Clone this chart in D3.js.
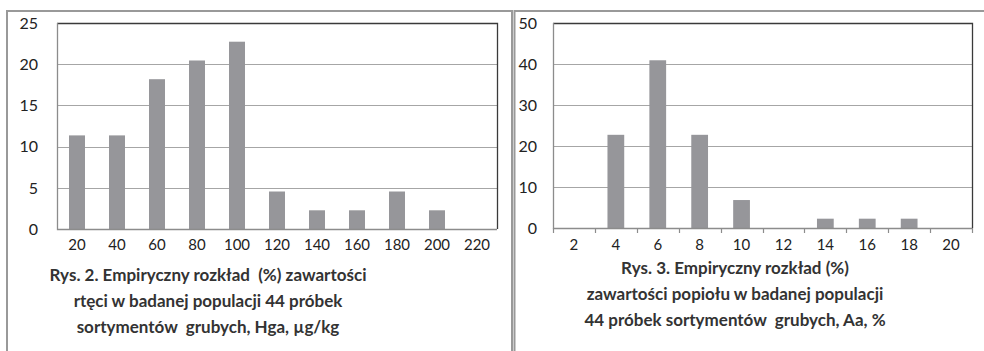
<!DOCTYPE html>
<html>
<head>
<meta charset="utf-8">
<script src="https://cdn.jsdelivr.net/npm/d3@7"></script>
<style>
  body { margin: 0; background: #fff; }
  svg { display: block; font-family: Lato, "Open Sans", sans-serif; }
</style>
</head>
<body>
<svg id="chart" width="984" height="351"></svg>
<script>
// Rys. 2 - rtec (Hg), % of 44 samples per class
var hgCategories = ["20", "40", "60", "80", "100", "120", "140", "160", "180", "200", "220"];
var hgValues = [11.36, 11.36, 18.18, 20.45, 22.73, 4.55, 2.27, 2.27, 4.55, 2.27, 0];
var hgYTicks = [0, 5, 10, 15, 20, 25];
var hgTitle = [
  "Rys. 2. Empiryczny rozkład\u00a0\u00a0(%) zawartości",
  "rtęci w badanej populacji 44 próbek",
  "sortymentów\u00a0\u00a0grubych, Hga, µg/kg"
];

// Rys. 3 - popiol (A), % of 44 samples per class
var aCategories = ["2", "4", "6", "8", "10", "12", "14", "16", "18", "20"];
var aValues = [0, 22.73, 40.91, 22.73, 6.82, 0, 2.27, 2.27, 2.27, 0];
var aYTicks = [0, 10, 20, 30, 40, 50];
var aTitle = [
  "Rys. 3. Empiryczny rozkład (%)",
  "zawartości popiołu w badanej populacji",
  "44 próbek sortymentów\u00a0\u00a0grubych, Aa, %"
];

var svg = d3.select("#chart");

// outer frames of both figures
svg.append("path")
  .attr("d", "M7,351 V11 H512 V351")
  .attr("fill", "none")
  .attr("stroke", "#999")
  .attr("stroke-width", 2);
svg.append("path")
  .attr("d", "M514.5,351 V11 H984")
  .attr("fill", "none")
  .attr("stroke", "#999")
  .attr("stroke-width", 2);

var drawPanel = function (opts) {
  var g = svg.append("g");

  var xScale = d3.scaleBand()
    .domain(opts.categories)
    .range([opts.left, opts.right])
    .paddingInner(0.6)
    .paddingOuter(0.3);

  var band = d3.scaleBand()
    .domain(opts.categories)
    .range([opts.left, opts.right]);

  var yScale = d3.scaleLinear()
    .domain([0, opts.yMax])
    .range([opts.bottom, opts.top]);

  // gridlines
  g.selectAll(".grid")
    .data(opts.yTicks.slice(1, -1))
    .enter()
    .append("line")
    .attr("class", "grid")
    .attr("x1", opts.left)
    .attr("x2", opts.right)
    .attr("y1", function (d) { return Math.round(yScale(d)) + 0.5; })
    .attr("y2", function (d) { return Math.round(yScale(d)) + 0.5; })
    .attr("stroke", "#a6a6a6")
    .attr("stroke-width", 1.2);

  // bars
  g.selectAll(".bar")
    .data(opts.values)
    .enter()
    .append("rect")
    .attr("class", "bar")
    .attr("x", function (d, i) { return xScale(opts.categories[i]); })
    .attr("width", xScale.bandwidth())
    .attr("y", function (d) { return yScale(d); })
    .attr("height", function (d) { return opts.bottom - yScale(d); })
    .attr("fill", "#96969a");

  // plot frame: dark top/right, grey left/bottom
  g.append("path")
    .attr("d", "M" + opts.left + "," + (opts.top + 0.5) + " H" + (opts.right + 0.5) + " V" + opts.bottom)
    .attr("fill", "none")
    .attr("stroke", "#3a3a3a")
    .attr("stroke-width", 1.3);
  g.append("path")
    .attr("d", "M" + (opts.left + 0.5) + "," + opts.top + " V" + (opts.bottom + 0.5) + " H" + opts.right)
    .attr("fill", "none")
    .attr("stroke", "#8c8c8c")
    .attr("stroke-width", 1.3);

  // category boundary ticks
  if (opts.showTicks) {
    var edges = opts.categories.map(function (c) { return band(c); }).concat([opts.right]);
    g.selectAll(".tick")
      .data(edges)
      .enter()
      .append("line")
      .attr("x1", function (d) { return Math.round(d) + 0.5; })
      .attr("x2", function (d) { return Math.round(d) + 0.5; })
      .attr("y1", opts.bottom)
      .attr("y2", opts.bottom + 5)
      .attr("stroke", "#8c8c8c")
      .attr("stroke-width", 1.2);
  }

  // y labels
  g.selectAll(".ylab")
    .data(opts.yTicks)
    .enter()
    .append("text")
    .attr("x", opts.yLabelX)
    .attr("y", function (d) { return yScale(d); })
    .attr("dy", "0.36em")
    .attr("text-anchor", "end")
    .attr("font-size", 16)
    .attr("fill", "#222")
    .text(function (d) { return d; });

  // x labels
  g.selectAll(".xlab")
    .data(opts.categories)
    .enter()
    .append("text")
    .attr("x", function (d) { return band(d) + band.bandwidth() / 2; })
    .attr("y", opts.xLabelY)
    .attr("dy", "0.36em")
    .attr("text-anchor", "middle")
    .attr("font-size", 15)
    .attr("fill", "#222")
    .text(function (d) { return d; });

  // caption
  g.selectAll(".caption")
    .data(opts.title)
    .enter()
    .append("text")
    .attr("x", opts.titleX)
    .attr("y", function (d, i) { return opts.titleY + i * 26; })
    .attr("dy", "0.36em")
    .attr("text-anchor", "middle")
    .attr("font-size", 17)
    .attr("font-weight", 700)
    .attr("fill", "#333")
    .text(function (d) { return d; });
};

drawPanel({
  categories: hgCategories,
  values: hgValues,
  yTicks: hgYTicks,
  yMax: 25,
  left: 57,
  right: 497,
  top: 23,
  bottom: 229,
  yLabelX: 38,
  xLabelY: 245,
  showTicks: false,
  title: hgTitle,
  titleX: 208,
  titleY: 275
});

drawPanel({
  categories: aCategories,
  values: aValues,
  yTicks: aYTicks,
  yMax: 50,
  left: 553,
  right: 972,
  top: 23,
  bottom: 228,
  yLabelX: 537,
  xLabelY: 245,
  showTicks: true,
  title: aTitle,
  titleX: 735,
  titleY: 268
});
</script>
</body>
</html>
